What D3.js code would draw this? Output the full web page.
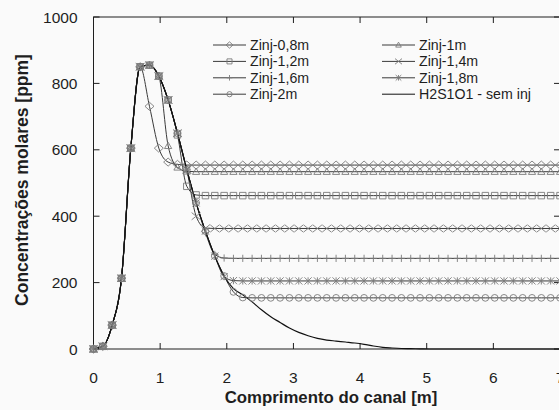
<!DOCTYPE html>
<html><head><meta charset="utf-8">
<script src="https://cdn.jsdelivr.net/npm/d3@7/dist/d3.min.js"></script>
<style>
html,body{margin:0;padding:0;background:#fafafa;}
svg{display:block;font-family:"Liberation Sans",Arial,sans-serif;}
</style></head><body>
<svg id="c" width="559" height="410"></svg>
<script>
const xs = [0,0.14,0.28,0.42,0.56,0.7,0.84,0.98,1.12,1.26,1.4,1.54,1.68,1.82,1.96,2.1,2.24,2.38,2.52,2.66,2.8,2.94,3.08,3.22,3.36,3.5,3.64,3.78,3.92,4.06,4.2,4.34,4.48,4.62,4.76,4.9,5.04,5.18,5.32,5.46,5.6,5.74,5.88,6.02,6.16,6.3,6.44,6.58,6.72,6.86,7];

const semInj = [0,8,72,213,605,850,855,822,750,650, 540,440,355,280,220,182,163,142,118,97, 80,63,50,40,32,27,24,21,18,14, 9,5,3,1.5,1,0.5,0,0,0,0, 0,0,0,0,0,0,0,0,0,0, 0];
const zinj08 = [0,8,72,213,605,850,731,605,563,556, 554,554,554,554,554,554,554,554,554,554, 554,554,554,554,554,554,554,554,554,554, 554,554,554,554,554,554,554,554,554,554, 554,554,554,554,554,554,554,554,554,554, 554];
const zinj10 = [0,8,72,213,605,850,855,822,612,547, 535,534,534,534,534,534,534,534,534,534, 534,534,534,534,534,534,534,534,534,534, 534,534,534,534,534,534,534,534,534,534, 534,534,534,534,534,534,534,534,534,534, 534];
const zinj12 = [0,8,72,213,605,850,855,822,750,645, 490,464,462,462,462,462,462,462,462,462, 462,462,462,462,462,462,462,462,462,462, 462,462,462,462,462,462,462,462,462,462, 462,462,462,462,462,462,462,462,462,462, 462];
const zinj14 = [0,8,72,213,605,850,855,822,750,650, 540,400,364,363,363,363,363,363,363,363, 363,363,363,363,363,363,363,363,363,363, 363,363,363,363,363,363,363,363,363,363, 363,363,363,363,363,363,363,363,363,363, 363];
const zinj16 = [0,8,72,213,605,850,855,822,750,650, 540,440,350,285,274,273,273,273,273,273, 273,273,273,273,273,273,273,273,273,273, 273,273,273,273,273,273,273,273,273,273, 273,273,273,273,273,273,273,273,273,273, 273];
const zinj18 = [0,8,72,213,605,850,855,822,750,650, 540,440,355,280,218,206,205,205,205,205, 205,205,205,205,205,205,205,205,205,205, 205,205,205,205,205,205,205,205,205,205, 205,205,205,205,205,205,205,205,205,205, 205];
const zinj20 = [0,8,72,213,605,850,855,822,750,650, 540,440,355,280,220,172,155,154,154,154, 154,154,154,154,154,154,154,154,154,154, 154,154,154,154,154,154,154,154,154,154, 154,154,154,154,154,154,154,154,154,154, 154];

const seriesNames = ["Zinj-0,8m","Zinj-1m","Zinj-1,2m","Zinj-1,4m","Zinj-1,6m","Zinj-1,8m","Zinj-2m","H2S1O1 - sem inj"];
const seriesMarkers = ["diamond","triangle","square","x","plus","asterisk","circle","none"];
const seriesValues = [zinj08,zinj10,zinj12,zinj14,zinj16,zinj18,zinj20,semInj];

const xTicks = [0,1,2,3,4,5,6,7];
const yTicks = [0,200,400,600,800,1000];
const xTitle = "Comprimento do canal [m]";
const yTitle = "Concentrações molares [ppm]";

const svg = d3.select("#c");
const x = d3.scaleLinear().domain([0,7]).range([93.5,560]);
const y = d3.scaleLinear().domain([0,1000]).range([349,17]);

const ink = "#1e1e1e";

// frame
const L = x(0), R = x(7), T = y(1000), B = y(0);
svg.append("rect").attr("x",L).attr("y",T).attr("width",R-L).attr("height",B-T)
  .attr("fill","none").attr("stroke",ink).attr("stroke-width",1);

// ticks inward
const tk = 6;
svg.append("g").selectAll("line").data(xTicks).join("line")
  .attr("x1",d=>x(d)).attr("x2",d=>x(d)).attr("y1",B).attr("y2",B-tk).attr("stroke",ink);
svg.append("g").selectAll("line").data(xTicks).join("line")
  .attr("x1",d=>x(d)).attr("x2",d=>x(d)).attr("y1",T).attr("y2",T+tk).attr("stroke",ink);
svg.append("g").selectAll("line").data(yTicks).join("line")
  .attr("x1",L).attr("x2",L+tk).attr("y1",d=>y(d)).attr("y2",d=>y(d)).attr("stroke",ink);
svg.append("g").selectAll("line").data(yTicks).join("line")
  .attr("x1",R).attr("x2",R-tk).attr("y1",d=>y(d)).attr("y2",d=>y(d)).attr("stroke",ink);

// tick labels
svg.append("g").selectAll("text").data(xTicks).join("text")
  .attr("x",d=>x(d)).attr("y",382.5).attr("text-anchor","middle")
  .attr("font-size",15.5).attr("fill",ink).text(d=>d);
svg.append("g").selectAll("text").data(yTicks).join("text")
  .attr("x",77.5).attr("y",d=>y(d)+5.5).attr("text-anchor","end")
  .attr("font-size",15.5).attr("fill",ink).text(d=>d);

// titles
svg.append("text").attr("x",331).attr("y",403).attr("text-anchor","middle")
  .attr("font-size",16.8).attr("font-weight","bold").attr("fill",ink).text(xTitle);
svg.append("text").attr("transform","translate(28,180) rotate(-90)").attr("text-anchor","middle")
  .attr("font-size",17.5).attr("font-weight","bold").attr("fill",ink).text(yTitle);

// marker path
function markerPath(type, s){
  const r = s/2;
  switch(type){
    case "diamond": return `M0,${-r*0.9}L${r},0L0,${r*0.9}L${-r},0Z`;
    case "square": { const q=r*0.72; return `M${-q},${-q}H${q}V${q}H${-q}Z`; }
    case "triangle": { const q=r*0.8; return `M0,${-q}L${q},${q*0.75}L${-q},${q*0.75}Z`; }
    case "x": return `M${-r},${-r*0.8}L${r},${r*0.8}M${-r},${r*0.8}L${r},${-r*0.8}`;
    case "plus": { const q=r*0.8; return `M0,${-q}V${q}M${-q},0H${q}`; }
    case "asterisk": { const q=r*0.8; return `M${-q},${-q}L${q},${q}M${-q},${q}L${q},${-q}M0,${-q}V${q}`; }
    case "circle": { const q=r*0.75; return `M${q},0A${q},${q} 0 1,1 ${-q},0A${q},${q} 0 1,1 ${q},0Z`; }
  }
  return "";
}

const line = d3.line().x(d=>x(d[0])).y(d=>y(d[1])).curve(d3.curveMonotoneX);

const gPlot = svg.append("g");
seriesNames.forEach((name,i)=>{
  const pts = xs.map((xv,j)=>[xv, seriesValues[i][j]]);
  const isBase = seriesMarkers[i]==="none";
  gPlot.append("path").datum(pts).attr("d",line).attr("fill","none")
    .attr("stroke", isBase ? "#111" : "#3a3a3a").attr("stroke-width", isBase?1.2:1);
});
seriesNames.forEach((name,i)=>{
  if(seriesMarkers[i]==="none") return;
  const pts = xs.map((xv,j)=>[xv, seriesValues[i][j]]);
  gPlot.append("g").selectAll("path").data(pts).join("path")
    .attr("transform",d=>`translate(${x(d[0])},${y(d[1])})`)
    .attr("d",markerPath(seriesMarkers[i],9))
    .attr("fill","none").attr("stroke","#7a7a7a").attr("stroke-width",0.9);
});

// legend
const legX = [213, 382], legY0 = 45, legDy = 16.4, legW = 33;
const gLeg = svg.append("g");
seriesNames.forEach((name,i)=>{
  const col = i%2, row = Math.floor(i/2);
  const lx = legX[col], ly = legY0 + row*legDy;
  gLeg.append("line").attr("x1",lx).attr("x2",lx+legW).attr("y1",ly).attr("y2",ly)
    .attr("stroke", seriesMarkers[i]==="none" ? "#111" : "#3a3a3a").attr("stroke-width",1);
  if(seriesMarkers[i]!=="none"){
    gLeg.append("path").attr("transform",`translate(${lx+legW/2},${ly})`)
      .attr("d",markerPath(seriesMarkers[i],7)).attr("fill","none")
      .attr("stroke","#7a7a7a").attr("stroke-width",0.9);
  }
  gLeg.append("text").attr("x",lx+legW+4).attr("y",ly+5).attr("font-size",14.2)
    .attr("fill",ink).text(name);
});
</script>
</body></html>
